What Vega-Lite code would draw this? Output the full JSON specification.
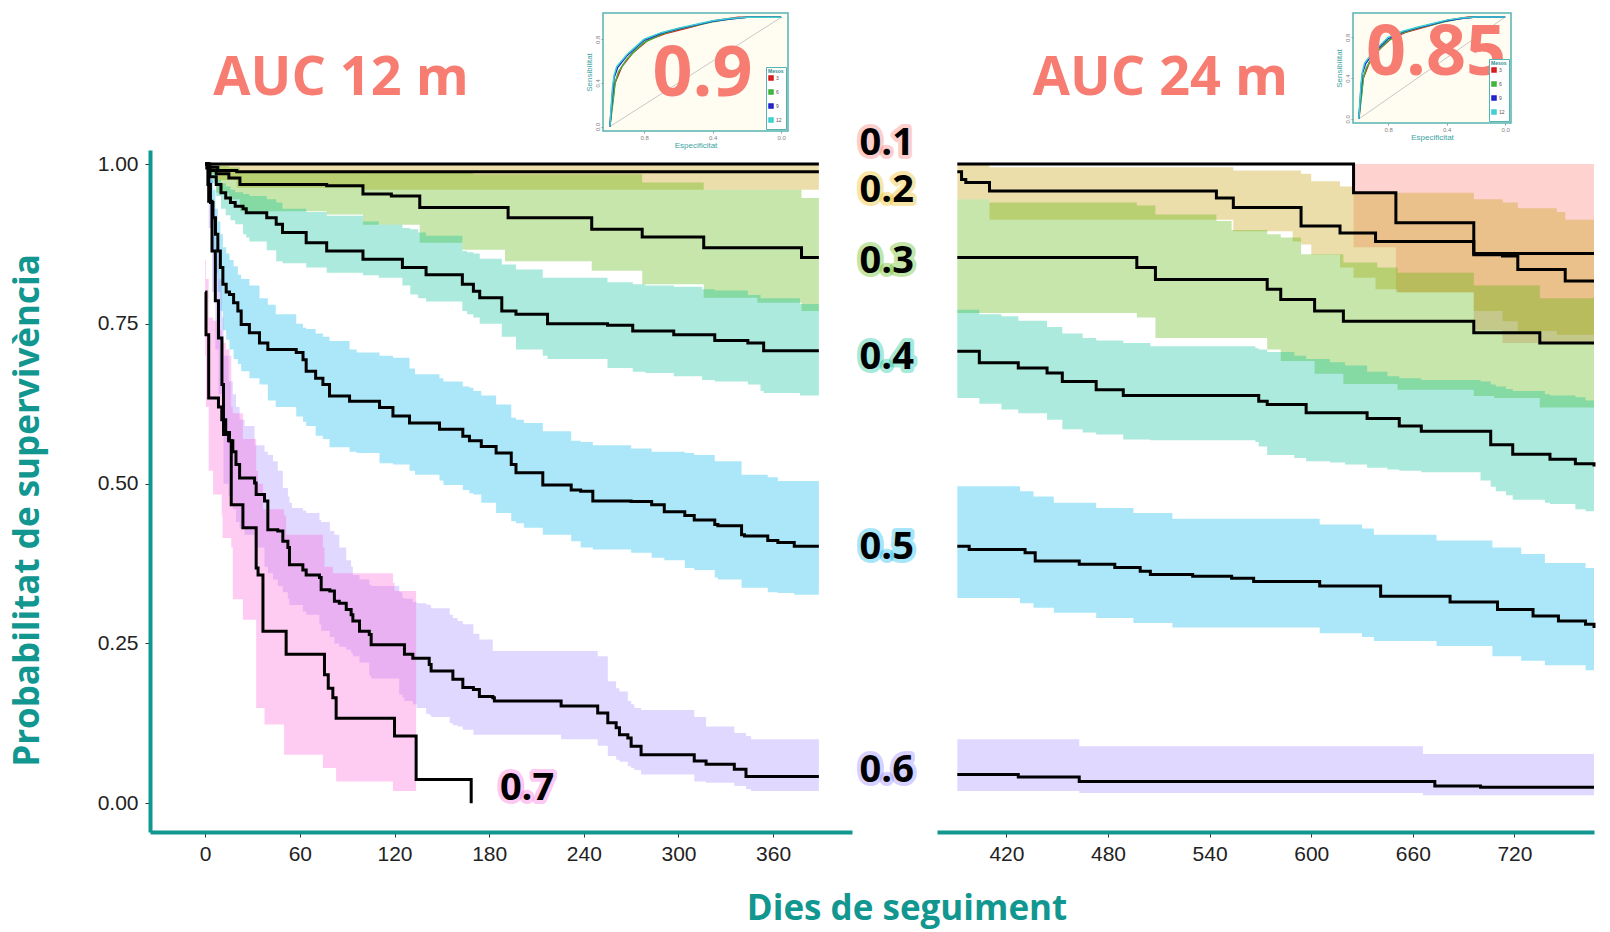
{
"$schema":"https://vega.github.io/schema/vega-lite/v6.json",
"background":"white",
"padding":{"left":10,"top":12,"right":8,"bottom":2},
"config":{"view":{"stroke":null},"legend":{"rowPadding":0,"titlePadding":1,"padding":2,"labelFontSize":5,"titleFontSize":5,"symbolSize":9,"symbolStrokeWidth":2.5,"labelOffset":2}},
"title":{"text":"Dies de seguiment","orient":"bottom","anchor":"middle","dx":102,"offset":28,"font":"Open Sans","fontWeight":"bold","fontSize":35,"color":"#119690"},
"datasets":{
"roc":[
{"m":"3","sp":1,"se":0},{"m":"3","sp":0.99,"se":0.15},{"m":"3","sp":0.97,"se":0.4},{"m":"3","sp":0.93,"se":0.55},{"m":"3","sp":0.87,"se":0.67},{"m":"3","sp":0.78,"se":0.79},{"m":"3","sp":0.68,"se":0.85},{"m":"3","sp":0.52,"se":0.915},{"m":"3","sp":0.39,"se":0.97},{"m":"3","sp":0.25,"se":1},{"m":"3","sp":0,"se":1},
{"m":"6","sp":1,"se":0},{"m":"6","sp":0.98,"se":0.25},{"m":"6","sp":0.97,"se":0.4},{"m":"6","sp":0.95,"se":0.5},{"m":"6","sp":0.9,"se":0.62},{"m":"6","sp":0.85,"se":0.7},{"m":"6","sp":0.8,"se":0.77},{"m":"6","sp":0.7,"se":0.845},{"m":"6","sp":0.6,"se":0.89},{"m":"6","sp":0.5,"se":0.925},{"m":"6","sp":0.4,"se":0.96},{"m":"6","sp":0.3,"se":0.985},{"m":"6","sp":0.2,"se":1},{"m":"6","sp":0,"se":1},
{"m":"9","sp":1,"se":0},{"m":"9","sp":0.985,"se":0.3},{"m":"9","sp":0.975,"se":0.45},{"m":"9","sp":0.955,"se":0.54},{"m":"9","sp":0.9,"se":0.65},{"m":"9","sp":0.85,"se":0.72},{"m":"9","sp":0.8,"se":0.79},{"m":"9","sp":0.7,"se":0.855},{"m":"9","sp":0.6,"se":0.895},{"m":"9","sp":0.5,"se":0.93},{"m":"9","sp":0.4,"se":0.965},{"m":"9","sp":0.3,"se":0.985},{"m":"9","sp":0.2,"se":1},{"m":"9","sp":0,"se":1},
{"m":"12","sp":1,"se":0},{"m":"12","sp":0.985,"se":0.35},{"m":"12","sp":0.975,"se":0.47},{"m":"12","sp":0.96,"se":0.55},{"m":"12","sp":0.9,"se":0.66},{"m":"12","sp":0.85,"se":0.73},{"m":"12","sp":0.8,"se":0.8},{"m":"12","sp":0.7,"se":0.86},{"m":"12","sp":0.6,"se":0.9},{"m":"12","sp":0.5,"se":0.935},{"m":"12","sp":0.4,"se":0.97},{"m":"12","sp":0.3,"se":0.99},{"m":"12","sp":0.2,"se":1},{"m":"12","sp":0,"se":1}
],
"lab":[
{"g":"0.1","t":432,"s":1.032},{"g":"0.2","t":432,"s":0.958},{"g":"0.3","t":432,"s":0.847},{"g":"0.4","t":432,"s":0.697},{"g":"0.5","t":432,"s":0.4},{"g":"0.6","t":432,"s":0.05},{"g":"0.7","t":204,"s":0.023}
],
"L":[
{"g":"0.1","t":0,"s":1,"lo":1,"hi":1},{"g":"0.1","t":389,"s":1,"lo":1,"hi":1},
{"g":"0.2","t":0,"s":1,"lo":1,"hi":1},{"g":"0.2","t":2,"s":0.995,"lo":0.985,"hi":1},{"g":"0.2","t":8,"s":0.99,"lo":0.975,"hi":1},{"g":"0.2","t":20,"s":0.988,"lo":0.963,"hi":1},{"g":"0.2","t":100,"s":0.988,"lo":0.96,"hi":1},{"g":"0.2","t":389,"s":0.988,"lo":0.96,"hi":1},
{"g":"0.3","t":0,"s":1,"lo":1,"hi":1},{"g":"0.3","t":3,"s":0.99,"lo":0.985,"hi":0.998},{"g":"0.3","t":7,"s":0.985,"lo":0.955,"hi":0.997},{"g":"0.3","t":15,"s":0.978,"lo":0.945,"hi":0.995},{"g":"0.3","t":22,"s":0.968,"lo":0.926,"hi":0.99},{"g":"0.3","t":77,"s":0.966,"lo":0.921,"hi":0.99},{"g":"0.3","t":100,"s":0.953,"lo":0.905,"hi":0.988},{"g":"0.3","t":118,"s":0.95,"lo":0.905,"hi":0.988},{"g":"0.3","t":136,"s":0.932,"lo":0.877,"hi":0.986},{"g":"0.3","t":163,"s":0.932,"lo":0.866,"hi":0.986},{"g":"0.3","t":170,"s":0.932,"lo":0.866,"hi":0.984},{"g":"0.3","t":190,"s":0.932,"lo":0.848,"hi":0.984},{"g":"0.3","t":192,"s":0.916,"lo":0.848,"hi":0.984},{"g":"0.3","t":245,"s":0.898,"lo":0.833,"hi":0.984},{"g":"0.3","t":277,"s":0.886,"lo":0.812,"hi":0.971},{"g":"0.3","t":316,"s":0.869,"lo":0.791,"hi":0.96},{"g":"0.3","t":350,"s":0.869,"lo":0.783,"hi":0.96},{"g":"0.3","t":378,"s":0.854,"lo":0.77,"hi":0.947},{"g":"0.3","t":389,"s":0.854,"lo":0.77,"hi":0.947},
{"g":"0.4","t":0,"s":1,"lo":1,"hi":1},{"g":"0.4","t":1,"s":0.994,"lo":0.99,"hi":1},{"g":"0.4","t":3,"s":0.98,"lo":0.97,"hi":0.99},{"g":"0.4","t":7,"s":0.968,"lo":0.95,"hi":0.975},{"g":"0.4","t":10,"s":0.955,"lo":0.93,"hi":0.97},{"g":"0.4","t":13,"s":0.947,"lo":0.92,"hi":0.965},{"g":"0.4","t":16,"s":0.94,"lo":0.912,"hi":0.96},{"g":"0.4","t":19,"s":0.934,"lo":0.906,"hi":0.956},{"g":"0.4","t":24,"s":0.93,"lo":0.89,"hi":0.953},{"g":"0.4","t":26,"s":0.924,"lo":0.885,"hi":0.953},{"g":"0.4","t":28,"s":0.924,"lo":0.879,"hi":0.95},{"g":"0.4","t":39,"s":0.916,"lo":0.865,"hi":0.945},{"g":"0.4","t":45,"s":0.906,"lo":0.848,"hi":0.94},{"g":"0.4","t":49,"s":0.893,"lo":0.845,"hi":0.93},{"g":"0.4","t":64,"s":0.877,"lo":0.838,"hi":0.925},{"g":"0.4","t":77,"s":0.864,"lo":0.83,"hi":0.919},{"g":"0.4","t":100,"s":0.851,"lo":0.826,"hi":0.91},{"g":"0.4","t":110,"s":0.851,"lo":0.822,"hi":0.905},{"g":"0.4","t":125,"s":0.838,"lo":0.81,"hi":0.9},{"g":"0.4","t":130,"s":0.838,"lo":0.796,"hi":0.898},{"g":"0.4","t":135,"s":0.838,"lo":0.79,"hi":0.893},{"g":"0.4","t":140,"s":0.827,"lo":0.785,"hi":0.888},{"g":"0.4","t":163,"s":0.812,"lo":0.77,"hi":0.864},{"g":"0.4","t":166,"s":0.812,"lo":0.765,"hi":0.862},{"g":"0.4","t":170,"s":0.801,"lo":0.76,"hi":0.86},{"g":"0.4","t":174,"s":0.791,"lo":0.75,"hi":0.852},{"g":"0.4","t":188,"s":0.77,"lo":0.73,"hi":0.843},{"g":"0.4","t":197,"s":0.765,"lo":0.71,"hi":0.835},{"g":"0.4","t":214,"s":0.765,"lo":0.7,"hi":0.822},{"g":"0.4","t":217,"s":0.75,"lo":0.695,"hi":0.822},{"g":"0.4","t":255,"s":0.748,"lo":0.681,"hi":0.815},{"g":"0.4","t":271,"s":0.739,"lo":0.675,"hi":0.812},{"g":"0.4","t":279,"s":0.739,"lo":0.673,"hi":0.81},{"g":"0.4","t":297,"s":0.733,"lo":0.668,"hi":0.808},{"g":"0.4","t":315,"s":0.733,"lo":0.662,"hi":0.804},{"g":"0.4","t":323,"s":0.724,"lo":0.66,"hi":0.802},{"g":"0.4","t":344,"s":0.72,"lo":0.655,"hi":0.795},{"g":"0.4","t":352,"s":0.72,"lo":0.645,"hi":0.79},{"g":"0.4","t":354,"s":0.708,"lo":0.642,"hi":0.79},{"g":"0.4","t":377,"s":0.708,"lo":0.638,"hi":0.781},{"g":"0.4","t":389,"s":0.708,"lo":0.636,"hi":0.781},
{"g":"0.5","t":0,"s":1,"lo":1,"hi":1},{"g":"0.5","t":1.7,"s":0.968,"lo":0.94,"hi":0.99},{"g":"0.5","t":3.3,"s":0.94,"lo":0.9,"hi":0.975},{"g":"0.5","t":4.9,"s":0.916,"lo":0.86,"hi":0.96},{"g":"0.5","t":6.5,"s":0.89,"lo":0.83,"hi":0.93},{"g":"0.5","t":8,"s":0.864,"lo":0.8,"hi":0.91},{"g":"0.5","t":9.6,"s":0.838,"lo":0.77,"hi":0.89},{"g":"0.5","t":11.2,"s":0.812,"lo":0.74,"hi":0.87},{"g":"0.5","t":13.3,"s":0.8,"lo":0.725,"hi":0.86},{"g":"0.5","t":15.4,"s":0.796,"lo":0.71,"hi":0.85},{"g":"0.5","t":18,"s":0.783,"lo":0.695,"hi":0.84},{"g":"0.5","t":20.7,"s":0.77,"lo":0.687,"hi":0.827},{"g":"0.5","t":22.8,"s":0.749,"lo":0.676,"hi":0.82},{"g":"0.5","t":28,"s":0.736,"lo":0.665,"hi":0.81},{"g":"0.5","t":34.4,"s":0.72,"lo":0.655,"hi":0.79},{"g":"0.5","t":39.7,"s":0.71,"lo":0.63,"hi":0.78},{"g":"0.5","t":44.7,"s":0.71,"lo":0.62,"hi":0.765},{"g":"0.5","t":57.7,"s":0.705,"lo":0.605,"hi":0.75},{"g":"0.5","t":62,"s":0.694,"lo":0.597,"hi":0.744},{"g":"0.5","t":64,"s":0.676,"lo":0.59,"hi":0.742},{"g":"0.5","t":70,"s":0.665,"lo":0.575,"hi":0.735},{"g":"0.5","t":74.6,"s":0.655,"lo":0.57,"hi":0.73},{"g":"0.5","t":78.8,"s":0.637,"lo":0.557,"hi":0.723},{"g":"0.5","t":91.5,"s":0.629,"lo":0.55,"hi":0.71},{"g":"0.5","t":96,"s":0.629,"lo":0.548,"hi":0.705},{"g":"0.5","t":110.5,"s":0.619,"lo":0.532,"hi":0.7},{"g":"0.5","t":119,"s":0.606,"lo":0.53,"hi":0.697},{"g":"0.5","t":129.5,"s":0.595,"lo":0.52,"hi":0.68},{"g":"0.5","t":133,"s":0.595,"lo":0.514,"hi":0.671},{"g":"0.5","t":148.5,"s":0.585,"lo":0.505,"hi":0.665},{"g":"0.5","t":151,"s":0.585,"lo":0.498,"hi":0.66},{"g":"0.5","t":163.3,"s":0.574,"lo":0.49,"hi":0.652},{"g":"0.5","t":167.5,"s":0.567,"lo":0.485,"hi":0.65},{"g":"0.5","t":170,"s":0.567,"lo":0.483,"hi":0.645},{"g":"0.5","t":175,"s":0.558,"lo":0.47,"hi":0.638},{"g":"0.5","t":184.4,"s":0.548,"lo":0.454,"hi":0.624},{"g":"0.5","t":194,"s":0.53,"lo":0.441,"hi":0.603},{"g":"0.5","t":197,"s":0.517,"lo":0.438,"hi":0.6},{"g":"0.5","t":202,"s":0.517,"lo":0.431,"hi":0.595},{"g":"0.5","t":214,"s":0.498,"lo":0.42,"hi":0.582},{"g":"0.5","t":232,"s":0.49,"lo":0.41,"hi":0.567},{"g":"0.5","t":238,"s":0.488,"lo":0.4,"hi":0.565},{"g":"0.5","t":245.7,"s":0.473,"lo":0.397,"hi":0.56},{"g":"0.5","t":270,"s":0.472,"lo":0.392,"hi":0.555},{"g":"0.5","t":283,"s":0.467,"lo":0.384,"hi":0.55},{"g":"0.5","t":291,"s":0.456,"lo":0.38,"hi":0.55},{"g":"0.5","t":304,"s":0.45,"lo":0.368,"hi":0.548},{"g":"0.5","t":310,"s":0.443,"lo":0.365,"hi":0.545},{"g":"0.5","t":323,"s":0.436,"lo":0.353,"hi":0.535},{"g":"0.5","t":325,"s":0.434,"lo":0.35,"hi":0.535},{"g":"0.5","t":340,"s":0.42,"lo":0.337,"hi":0.514},{"g":"0.5","t":341.8,"s":0.418,"lo":0.337,"hi":0.514},{"g":"0.5","t":356.6,"s":0.411,"lo":0.33,"hi":0.51},{"g":"0.5","t":363,"s":0.408,"lo":0.329,"hi":0.504},{"g":"0.5","t":373.4,"s":0.402,"lo":0.326,"hi":0.504},{"g":"0.5","t":389,"s":0.402,"lo":0.324,"hi":0.504},
{"g":"0.6","t":0,"s":1,"lo":1,"hi":1},{"g":"0.6","t":2.2,"s":0.942,"lo":0.9,"hi":0.98},{"g":"0.6","t":4.3,"s":0.864,"lo":0.8,"hi":0.93},{"g":"0.6","t":6.4,"s":0.786,"lo":0.71,"hi":0.87},{"g":"0.6","t":8.4,"s":0.728,"lo":0.64,"hi":0.82},{"g":"0.6","t":10.6,"s":0.655,"lo":0.58,"hi":0.76},{"g":"0.6","t":11.6,"s":0.577,"lo":0.5,"hi":0.7},{"g":"0.6","t":14.8,"s":0.567,"lo":0.48,"hi":0.66},{"g":"0.6","t":17.5,"s":0.55,"lo":0.46,"hi":0.64},{"g":"0.6","t":19.5,"s":0.53,"lo":0.44,"hi":0.62},{"g":"0.6","t":21.8,"s":0.509,"lo":0.43,"hi":0.6},{"g":"0.6","t":25,"s":0.509,"lo":0.42,"hi":0.59},{"g":"0.6","t":31.3,"s":0.501,"lo":0.4,"hi":0.56},{"g":"0.6","t":32.3,"s":0.483,"lo":0.4,"hi":0.56},{"g":"0.6","t":37.6,"s":0.473,"lo":0.37,"hi":0.55},{"g":"0.6","t":39.7,"s":0.428,"lo":0.36,"hi":0.545},{"g":"0.6","t":43,"s":0.428,"lo":0.35,"hi":0.535},{"g":"0.6","t":46,"s":0.426,"lo":0.34,"hi":0.52},{"g":"0.6","t":49.2,"s":0.41,"lo":0.33,"hi":0.493},{"g":"0.6","t":52.4,"s":0.4,"lo":0.32,"hi":0.48},{"g":"0.6","t":53.4,"s":0.373,"lo":0.31,"hi":0.47},{"g":"0.6","t":55,"s":0.373,"lo":0.31,"hi":0.462},{"g":"0.6","t":61.9,"s":0.365,"lo":0.3,"hi":0.458},{"g":"0.6","t":64,"s":0.357,"lo":0.295,"hi":0.454},{"g":"0.6","t":72.4,"s":0.353,"lo":0.28,"hi":0.443},{"g":"0.6","t":73.5,"s":0.334,"lo":0.27,"hi":0.44},{"g":"0.6","t":79,"s":0.332,"lo":0.26,"hi":0.426},{"g":"0.6","t":81.9,"s":0.316,"lo":0.25,"hi":0.42},{"g":"0.6","t":85,"s":0.313,"lo":0.245,"hi":0.4},{"g":"0.6","t":89.4,"s":0.303,"lo":0.24,"hi":0.38},{"g":"0.6","t":92.5,"s":0.295,"lo":0.235,"hi":0.37},{"g":"0.6","t":93.6,"s":0.285,"lo":0.23,"hi":0.357},{"g":"0.6","t":97.8,"s":0.269,"lo":0.22,"hi":0.35},{"g":"0.6","t":104,"s":0.264,"lo":0.2,"hi":0.342},{"g":"0.6","t":105.2,"s":0.248,"lo":0.195,"hi":0.34},{"g":"0.6","t":123,"s":0.248,"lo":0.17,"hi":0.33},{"g":"0.6","t":125,"s":0.248,"lo":0.165,"hi":0.321},{"g":"0.6","t":126.3,"s":0.233,"lo":0.16,"hi":0.32},{"g":"0.6","t":131.6,"s":0.227,"lo":0.155,"hi":0.315},{"g":"0.6","t":134,"s":0.227,"lo":0.149,"hi":0.313},{"g":"0.6","t":140,"s":0.227,"lo":0.14,"hi":0.311},{"g":"0.6","t":142,"s":0.217,"lo":0.138,"hi":0.31},{"g":"0.6","t":143.2,"s":0.207,"lo":0.135,"hi":0.305},{"g":"0.6","t":155,"s":0.207,"lo":0.125,"hi":0.295},{"g":"0.6","t":157,"s":0.194,"lo":0.122,"hi":0.29},{"g":"0.6","t":160,"s":0.194,"lo":0.12,"hi":0.285},{"g":"0.6","t":163.3,"s":0.181,"lo":0.115,"hi":0.28},{"g":"0.6","t":170,"s":0.178,"lo":0.107,"hi":0.265},{"g":"0.6","t":173.8,"s":0.167,"lo":0.107,"hi":0.256},{"g":"0.6","t":182.3,"s":0.165,"lo":0.107,"hi":0.238},{"g":"0.6","t":183.3,"s":0.16,"lo":0.107,"hi":0.238},{"g":"0.6","t":225.6,"s":0.152,"lo":0.1,"hi":0.238},{"g":"0.6","t":248.8,"s":0.141,"lo":0.09,"hi":0.23},{"g":"0.6","t":255.2,"s":0.126,"lo":0.074,"hi":0.191},{"g":"0.6","t":260.5,"s":0.118,"lo":0.068,"hi":0.18},{"g":"0.6","t":262.6,"s":0.107,"lo":0.065,"hi":0.175},{"g":"0.6","t":267.9,"s":0.102,"lo":0.058,"hi":0.16},{"g":"0.6","t":270,"s":0.089,"lo":0.055,"hi":0.155},{"g":"0.6","t":272,"s":0.089,"lo":0.052,"hi":0.149},{"g":"0.6","t":276.3,"s":0.076,"lo":0.045,"hi":0.146},{"g":"0.6","t":310,"s":0.066,"lo":0.034,"hi":0.135},{"g":"0.6","t":317.5,"s":0.061,"lo":0.032,"hi":0.12},{"g":"0.6","t":335.4,"s":0.053,"lo":0.027,"hi":0.11},{"g":"0.6","t":342.8,"s":0.042,"lo":0.022,"hi":0.105},{"g":"0.6","t":346,"s":0.042,"lo":0.019,"hi":0.1},{"g":"0.6","t":389,"s":0.042,"lo":0.019,"hi":0.1},
{"g":"0.7","t":0,"s":0.8,"lo":0.7,"hi":0.85},{"g":"0.7","t":0.5,"s":0.733,"lo":0.62,"hi":0.82},{"g":"0.7","t":2.2,"s":0.634,"lo":0.52,"hi":0.76},{"g":"0.7","t":5,"s":0.634,"lo":0.483,"hi":0.755},{"g":"0.7","t":8.4,"s":0.62,"lo":0.483,"hi":0.74},{"g":"0.7","t":10.5,"s":0.6,"lo":0.45,"hi":0.73},{"g":"0.7","t":11,"s":0.6,"lo":0.415,"hi":0.72},{"g":"0.7","t":13,"s":0.58,"lo":0.415,"hi":0.71},{"g":"0.7","t":15.4,"s":0.567,"lo":0.415,"hi":0.7},{"g":"0.7","t":16.5,"s":0.467,"lo":0.4,"hi":0.62},{"g":"0.7","t":17.5,"s":0.467,"lo":0.319,"hi":0.61},{"g":"0.7","t":23.9,"s":0.431,"lo":0.287,"hi":0.57},{"g":"0.7","t":32.3,"s":0.368,"lo":0.149,"hi":0.52},{"g":"0.7","t":33.5,"s":0.357,"lo":0.149,"hi":0.5},{"g":"0.7","t":36.6,"s":0.269,"lo":0.149,"hi":0.46},{"g":"0.7","t":37.6,"s":0.269,"lo":0.123,"hi":0.46},{"g":"0.7","t":50,"s":0.269,"lo":0.076,"hi":0.45},{"g":"0.7","t":51.3,"s":0.233,"lo":0.076,"hi":0.42},{"g":"0.7","t":74.6,"s":0.233,"lo":0.055,"hi":0.4},{"g":"0.7","t":75.6,"s":0.201,"lo":0.055,"hi":0.37},{"g":"0.7","t":78,"s":0.18,"lo":0.055,"hi":0.37},{"g":"0.7","t":80.9,"s":0.165,"lo":0.055,"hi":0.36},{"g":"0.7","t":83,"s":0.133,"lo":0.034,"hi":0.36},{"g":"0.7","t":119,"s":0.133,"lo":0.019,"hi":0.345},{"g":"0.7","t":120,"s":0.105,"lo":0.019,"hi":0.332},{"g":"0.7","t":133.7,"s":0.037,"lo":0.037,"hi":0.037},{"g":"0.7","t":168.6,"s":0,"lo":0,"hi":0}
],
"R":[
{"g":"0.1","t":391,"s":1,"lo":1,"hi":1},{"g":"0.1","t":625,"s":0.955,"lo":0.87,"hi":1},{"g":"0.1","t":650,"s":0.908,"lo":0.8,"hi":1},{"g":"0.1","t":696,"s":0.86,"lo":0.74,"hi":1},{"g":"0.1","t":713,"s":0.86,"lo":0.72,"hi":1},{"g":"0.1","t":767,"s":0.86,"lo":0.72,"hi":1},
{"g":"0.2","t":391,"s":0.988,"lo":0.945,"hi":1},{"g":"0.2","t":393.5,"s":0.976,"lo":0.945,"hi":1},{"g":"0.2","t":396,"s":0.971,"lo":0.945,"hi":0.999},{"g":"0.2","t":410,"s":0.958,"lo":0.913,"hi":0.995},{"g":"0.2","t":544,"s":0.947,"lo":0.913,"hi":0.995},{"g":"0.2","t":554,"s":0.932,"lo":0.895,"hi":0.99},{"g":"0.2","t":589,"s":0.932,"lo":0.879,"hi":0.99},{"g":"0.2","t":594,"s":0.903,"lo":0.874,"hi":0.985},{"g":"0.2","t":600,"s":0.903,"lo":0.858,"hi":0.973},{"g":"0.2","t":617,"s":0.892,"lo":0.838,"hi":0.965},{"g":"0.2","t":625,"s":0.892,"lo":0.822,"hi":0.955},{"g":"0.2","t":638,"s":0.879,"lo":0.804,"hi":0.955},{"g":"0.2","t":651,"s":0.879,"lo":0.799,"hi":0.955},{"g":"0.2","t":696,"s":0.858,"lo":0.77,"hi":0.945},{"g":"0.2","t":713,"s":0.856,"lo":0.754,"hi":0.94},{"g":"0.2","t":722,"s":0.835,"lo":0.739,"hi":0.931},{"g":"0.2","t":745,"s":0.835,"lo":0.733,"hi":0.925},{"g":"0.2","t":750,"s":0.817,"lo":0.733,"hi":0.913},{"g":"0.2","t":767,"s":0.817,"lo":0.733,"hi":0.913},
{"g":"0.3","t":391,"s":0.854,"lo":0.767,"hi":0.945},{"g":"0.3","t":410,"s":0.854,"lo":0.767,"hi":0.94},{"g":"0.3","t":497,"s":0.838,"lo":0.76,"hi":0.935},{"g":"0.3","t":508,"s":0.8195,"lo":0.728,"hi":0.921},{"g":"0.3","t":544,"s":0.8195,"lo":0.728,"hi":0.911},{"g":"0.3","t":553,"s":0.8195,"lo":0.728,"hi":0.897},{"g":"0.3","t":574,"s":0.804,"lo":0.71,"hi":0.89},{"g":"0.3","t":582,"s":0.788,"lo":0.692,"hi":0.885},{"g":"0.3","t":594,"s":0.788,"lo":0.692,"hi":0.859},{"g":"0.3","t":602,"s":0.77,"lo":0.672,"hi":0.859},{"g":"0.3","t":619,"s":0.754,"lo":0.656,"hi":0.846},{"g":"0.3","t":639,"s":0.754,"lo":0.656,"hi":0.838},{"g":"0.3","t":651,"s":0.754,"lo":0.647,"hi":0.83},{"g":"0.3","t":696,"s":0.736,"lo":0.637,"hi":0.81},{"g":"0.3","t":708,"s":0.736,"lo":0.634,"hi":0.81},{"g":"0.3","t":735,"s":0.72,"lo":0.619,"hi":0.79},{"g":"0.3","t":767,"s":0.72,"lo":0.619,"hi":0.79},
{"g":"0.4","t":391,"s":0.707,"lo":0.634,"hi":0.772},{"g":"0.4","t":404,"s":0.689,"lo":0.625,"hi":0.765},{"g":"0.4","t":417,"s":0.689,"lo":0.616,"hi":0.762},{"g":"0.4","t":427,"s":0.681,"lo":0.61,"hi":0.755},{"g":"0.4","t":444,"s":0.673,"lo":0.6,"hi":0.745},{"g":"0.4","t":453,"s":0.66,"lo":0.585,"hi":0.735},{"g":"0.4","t":465,"s":0.66,"lo":0.58,"hi":0.728},{"g":"0.4","t":473,"s":0.647,"lo":0.577,"hi":0.724},{"g":"0.4","t":489,"s":0.638,"lo":0.569,"hi":0.72},{"g":"0.4","t":505,"s":0.638,"lo":0.568,"hi":0.715},{"g":"0.4","t":567,"s":0.638,"lo":0.565,"hi":0.712},{"g":"0.4","t":569,"s":0.629,"lo":0.558,"hi":0.71},{"g":"0.4","t":574,"s":0.624,"lo":0.545,"hi":0.706},{"g":"0.4","t":590,"s":0.624,"lo":0.54,"hi":0.7},{"g":"0.4","t":597,"s":0.611,"lo":0.535,"hi":0.695},{"g":"0.4","t":611,"s":0.611,"lo":0.533,"hi":0.69},{"g":"0.4","t":620,"s":0.611,"lo":0.53,"hi":0.685},{"g":"0.4","t":633,"s":0.602,"lo":0.525,"hi":0.675},{"g":"0.4","t":645,"s":0.602,"lo":0.522,"hi":0.668},{"g":"0.4","t":652,"s":0.59,"lo":0.52,"hi":0.665},{"g":"0.4","t":665,"s":0.582,"lo":0.518,"hi":0.662},{"g":"0.4","t":700,"s":0.582,"lo":0.505,"hi":0.66},{"g":"0.4","t":706,"s":0.561,"lo":0.495,"hi":0.655},{"g":"0.4","t":709,"s":0.561,"lo":0.488,"hi":0.652},{"g":"0.4","t":715,"s":0.561,"lo":0.482,"hi":0.648},{"g":"0.4","t":719,"s":0.546,"lo":0.475,"hi":0.645},{"g":"0.4","t":738,"s":0.546,"lo":0.47,"hi":0.64},{"g":"0.4","t":741,"s":0.538,"lo":0.468,"hi":0.638},{"g":"0.4","t":756,"s":0.531,"lo":0.46,"hi":0.635},{"g":"0.4","t":762,"s":0.531,"lo":0.457,"hi":0.63},{"g":"0.4","t":767,"s":0.527,"lo":0.457,"hi":0.63},
{"g":"0.5","t":391,"s":0.402,"lo":0.321,"hi":0.496},{"g":"0.5","t":398,"s":0.397,"lo":0.321,"hi":0.496},{"g":"0.5","t":428,"s":0.397,"lo":0.313,"hi":0.488},{"g":"0.5","t":431,"s":0.392,"lo":0.313,"hi":0.488},{"g":"0.5","t":436,"s":0.392,"lo":0.306,"hi":0.48},{"g":"0.5","t":437,"s":0.379,"lo":0.306,"hi":0.48},{"g":"0.5","t":448,"s":0.379,"lo":0.298,"hi":0.47},{"g":"0.5","t":463,"s":0.374,"lo":0.298,"hi":0.47},{"g":"0.5","t":473,"s":0.374,"lo":0.29,"hi":0.462},{"g":"0.5","t":484,"s":0.369,"lo":0.29,"hi":0.462},{"g":"0.5","t":495,"s":0.369,"lo":0.282,"hi":0.454},{"g":"0.5","t":499,"s":0.363,"lo":0.282,"hi":0.454},{"g":"0.5","t":505,"s":0.358,"lo":0.282,"hi":0.454},{"g":"0.5","t":518,"s":0.358,"lo":0.275,"hi":0.445},{"g":"0.5","t":530,"s":0.355,"lo":0.275,"hi":0.445},{"g":"0.5","t":553,"s":0.352,"lo":0.275,"hi":0.445},{"g":"0.5","t":566,"s":0.347,"lo":0.275,"hi":0.445},{"g":"0.5","t":605,"s":0.34,"lo":0.266,"hi":0.436},{"g":"0.5","t":630,"s":0.34,"lo":0.26,"hi":0.43},{"g":"0.5","t":637,"s":0.34,"lo":0.254,"hi":0.42},{"g":"0.5","t":641,"s":0.324,"lo":0.254,"hi":0.42},{"g":"0.5","t":674,"s":0.324,"lo":0.246,"hi":0.411},{"g":"0.5","t":682,"s":0.315,"lo":0.246,"hi":0.411},{"g":"0.5","t":707,"s":0.315,"lo":0.23,"hi":0.4},{"g":"0.5","t":710,"s":0.303,"lo":0.23,"hi":0.4},{"g":"0.5","t":724,"s":0.303,"lo":0.223,"hi":0.39},{"g":"0.5","t":731,"s":0.293,"lo":0.223,"hi":0.39},{"g":"0.5","t":738,"s":0.293,"lo":0.216,"hi":0.376},{"g":"0.5","t":746,"s":0.285,"lo":0.216,"hi":0.376},{"g":"0.5","t":762,"s":0.28,"lo":0.208,"hi":0.368},{"g":"0.5","t":767,"s":0.274,"lo":0.208,"hi":0.368},
{"g":"0.6","t":391,"s":0.045,"lo":0.019,"hi":0.1},{"g":"0.6","t":427,"s":0.041,"lo":0.019,"hi":0.1},{"g":"0.6","t":463,"s":0.034,"lo":0.016,"hi":0.089},{"g":"0.6","t":666,"s":0.034,"lo":0.0125,"hi":0.077},{"g":"0.6","t":673,"s":0.027,"lo":0.0125,"hi":0.077},{"g":"0.6","t":700,"s":0.025,"lo":0.0125,"hi":0.077},{"g":"0.6","t":767,"s":0.025,"lo":0.0125,"hi":0.077}
]
},
"vconcat":[
{"hconcat":[
{"width":382,"height":118,"data":{"values":[{"label":"AUC 12 m"}]},"mark":{"type":"text","font":"Open Sans","fontWeight":"bold","fontSize":54,"color":"#F77D72","baseline":"middle","dy":7},"encoding":{"text":{"field":"label"}}},
{"width":185,"height":118,"view":{"fill":"#FFFCF2","stroke":"#56B3B3","strokeWidth":1.5},
 "layer":[
  {"data":{"values":[{"a":0}]},"mark":{"type":"rule","color":"#C8C8C8","strokeWidth":1},"encoding":{"x":{"datum":1,"type":"quantitative"},"y":{"datum":0,"type":"quantitative"},"x2":{"datum":0},"y2":{"datum":1}}},
  {"data":{"name":"roc"},"mark":{"type":"line","strokeWidth":1.5},"encoding":{
   "x":{"field":"sp","type":"quantitative","scale":{"domain":[-0.04,1.04],"reverse":true,"nice":false,"zero":false},"axis":{"values":[0,0.2,0.4,0.6,0.8,1],"format":".1f","title":"Especificitat","titleFontSize":8,"titleFontWeight":"normal","titleColor":"#3BA3A3","titlePadding":1,"labelFontSize":6,"labelColor":"#808080","labelPadding":1,"tickSize":2,"tickColor":"#999999","domain":false,"grid":false}},
   "y":{"field":"se","type":"quantitative","scale":{"domain":[-0.04,1.04],"nice":false,"zero":false},"axis":{"values":[0,0.2,0.4,0.6,0.8,1],"format":".1f","title":"Sensibilitat","titleFontSize":8,"titleFontWeight":"normal","titleColor":"#3BA3A3","titlePadding":1,"labelFontSize":6,"labelColor":"#808080","labelPadding":1,"labelAngle":-90,"labelAlign":"center","labelBaseline":"bottom","tickSize":2,"tickColor":"#999999","domain":false,"grid":false}},
   "color":{"field":"m","type":"nominal","sort":["3","6","9","12"],"scale":{"domain":["3","6","9","12"],"range":["#D7191C","#3CB33C","#1F1FCC","#3CCFCF"]},"legend":{"title":"Mesos","orient":"bottom-right","offset":2,"symbolType":"square","fillColor":"white","strokeColor":"#56B3B3","labelColor":"#555555","titleColor":"#2C8C8C"}}}},
  {"data":{"values":[{"v":"0.9"}]},"mark":{"type":"text","font":"Open Sans","fontWeight":"bold","fontSize":70,"color":"#F77D72","baseline":"middle","dx":7,"dy":3},"encoding":{"text":{"field":"v"}}}
 ]},
{"width":423,"height":118,"data":{"values":[{"label":"AUC 24 m"}]},"mark":{"type":"text","font":"Open Sans","fontWeight":"bold","fontSize":54,"color":"#F77D72","baseline":"middle","align":"right","x":"width","dx":6,"dy":7},"encoding":{"text":{"field":"label"}}},
{"width":158,"height":110,"view":{"fill":"#FFFCF2","stroke":"#56B3B3","strokeWidth":1.5},
 "layer":[
  {"data":{"values":[{"a":0}]},"mark":{"type":"rule","color":"#C8C8C8","strokeWidth":1},"encoding":{"x":{"datum":1,"type":"quantitative"},"y":{"datum":0,"type":"quantitative"},"x2":{"datum":0},"y2":{"datum":1}}},
  {"data":{"name":"roc"},"mark":{"type":"line","strokeWidth":1.5},"encoding":{
   "x":{"field":"sp","type":"quantitative","scale":{"domain":[-0.04,1.04],"reverse":true,"nice":false,"zero":false},"axis":{"values":[0,0.2,0.4,0.6,0.8,1],"format":".1f","title":"Especificitat","titleFontSize":8,"titleFontWeight":"normal","titleColor":"#3BA3A3","titlePadding":1,"labelFontSize":6,"labelColor":"#808080","labelPadding":1,"tickSize":2,"tickColor":"#999999","domain":false,"grid":false}},
   "y":{"field":"se","type":"quantitative","scale":{"domain":[-0.04,1.04],"nice":false,"zero":false},"axis":{"values":[0,0.2,0.4,0.6,0.8,1],"format":".1f","title":"Sensibilitat","titleFontSize":8,"titleFontWeight":"normal","titleColor":"#3BA3A3","titlePadding":1,"labelFontSize":6,"labelColor":"#808080","labelPadding":1,"labelAngle":-90,"labelAlign":"center","labelBaseline":"bottom","tickSize":2,"tickColor":"#999999","domain":false,"grid":false}},
   "color":{"field":"m","type":"nominal","sort":["3","6","9","12"],"scale":{"domain":["3","6","9","12"],"range":["#D7191C","#3CB33C","#1F1FCC","#3CCFCF"]},"legend":{"title":"Mesos","orient":"bottom-right","offset":2,"symbolType":"square","fillColor":"white","strokeColor":"#56B3B3","labelColor":"#555555","titleColor":"#2C8C8C"}}}},
  {"data":{"values":[{"v":"0.85"}]},"mark":{"type":"text","font":"Open Sans","fontWeight":"bold","fontSize":70,"color":"#F77D72","baseline":"middle","dx":4,"dy":-14},"encoding":{"text":{"field":"v"}}}
 ]}
],
"spacing":71,"bounds":"flush",
"resolve":{"scale":{"color":"independent"},"legend":{"color":"independent"}}
},
{"hconcat":[
{"width":702,"height":682,
 "layer":[
  {"data":{"name":"L"},"mark":{"type":"area","interpolate":"step-after","opacity":0.33},"encoding":{
   "x":{"field":"t","type":"quantitative","scale":{"domain":[-35,410],"nice":false,"zero":false},"axis":{"values":[0,60,120,180,240,300,360],"title":null,"grid":false,"labelFont":"Liberation Sans","labelFontSize":21,"labelColor":"#222222","labelPadding":6,"tickSize":5,"tickColor":"#333333","domainColor":"#119690","domainWidth":4}},
   "y":{"field":"lo","type":"quantitative","scale":{"domain":[-0.045,1.022],"nice":false,"zero":false},"axis":{"values":[0,0.25,0.5,0.75,1],"format":".2f","title":"Probabilitat de supervivència","titleFont":"Open Sans","titleFontWeight":"bold","titleFontSize":35,"titleColor":"#119690","titlePadding":52,"titleY":360,"grid":false,"labelFont":"Liberation Sans","labelFontSize":21,"labelColor":"#222222","labelPadding":7,"tickSize":5,"tickColor":"#333333","domainColor":"#119690","domainWidth":4}},
   "y2":{"field":"hi"},
   "color":{"field":"g","type":"nominal","scale":{"domain":["0.1","0.2","0.3","0.4","0.5","0.6","0.7"],"range":["#F8766D","#C49A00","#53B400","#00C094","#00B6EB","#A58AFF","#FB61D7"]},"legend":null}}},
  {"data":{"name":"L"},"mark":{"type":"line","interpolate":"step-after","color":"black","strokeWidth":3},"encoding":{"x":{"field":"t","type":"quantitative"},"y":{"field":"s","type":"quantitative"},"detail":{"field":"g"}}},
  {"data":{"name":"lab"},"mark":{"type":"text","font":"Open Sans","fontWeight":"bold","fontSize":38,"baseline":"middle","strokeWidth":8,"strokeOpacity":0.35,"strokeJoin":"round","fillOpacity":0},"encoding":{"x":{"field":"t","type":"quantitative"},"y":{"field":"s","type":"quantitative"},"text":{"field":"g"},"stroke":{"field":"g","type":"nominal","scale":{"domain":["0.1","0.2","0.3","0.4","0.5","0.6","0.7"],"range":["#F8766D","#E8B800","#53B400","#00C094","#00B6EB","#8A7AFF","#FB61D7"]},"legend":null}}},
  {"data":{"name":"lab"},"mark":{"type":"text","font":"Open Sans","fontWeight":"bold","fontSize":38,"baseline":"middle","color":"black"},"encoding":{"x":{"field":"t","type":"quantitative"},"y":{"field":"s","type":"quantitative"},"text":{"field":"g"}}}
 ]},
{"width":657,"height":682,
 "layer":[
  {"data":{"name":"R"},"mark":{"type":"area","interpolate":"step-after","opacity":0.33},"encoding":{
   "x":{"field":"t","type":"quantitative","scale":{"domain":[379,767],"nice":false,"zero":false},"axis":{"values":[420,480,540,600,660,720],"title":null,"grid":false,"labelFont":"Liberation Sans","labelFontSize":21,"labelColor":"#222222","labelPadding":6,"tickSize":5,"tickColor":"#333333","domainColor":"#119690","domainWidth":4}},
   "y":{"field":"lo","type":"quantitative","scale":{"domain":[-0.045,1.022],"nice":false,"zero":false},"axis":null},
   "y2":{"field":"hi"},
   "color":{"field":"g","type":"nominal","scale":{"domain":["0.1","0.2","0.3","0.4","0.5","0.6","0.7"],"range":["#F8766D","#C49A00","#53B400","#00C094","#00B6EB","#A58AFF","#FB61D7"]},"legend":null}}},
  {"data":{"name":"R"},"mark":{"type":"line","interpolate":"step-after","color":"black","strokeWidth":3},"encoding":{"x":{"field":"t","type":"quantitative"},"y":{"field":"s","type":"quantitative","axis":null},"detail":{"field":"g"}}}
 ]}
],
"spacing":85,"bounds":"flush",
"resolve":{"scale":{"color":"independent","stroke":"independent"},"legend":{"color":"independent","stroke":"independent"}}
}
],
"spacing":-27,
"resolve":{"scale":{"color":"independent","stroke":"independent"},"legend":{"color":"independent","stroke":"independent"}}
}
